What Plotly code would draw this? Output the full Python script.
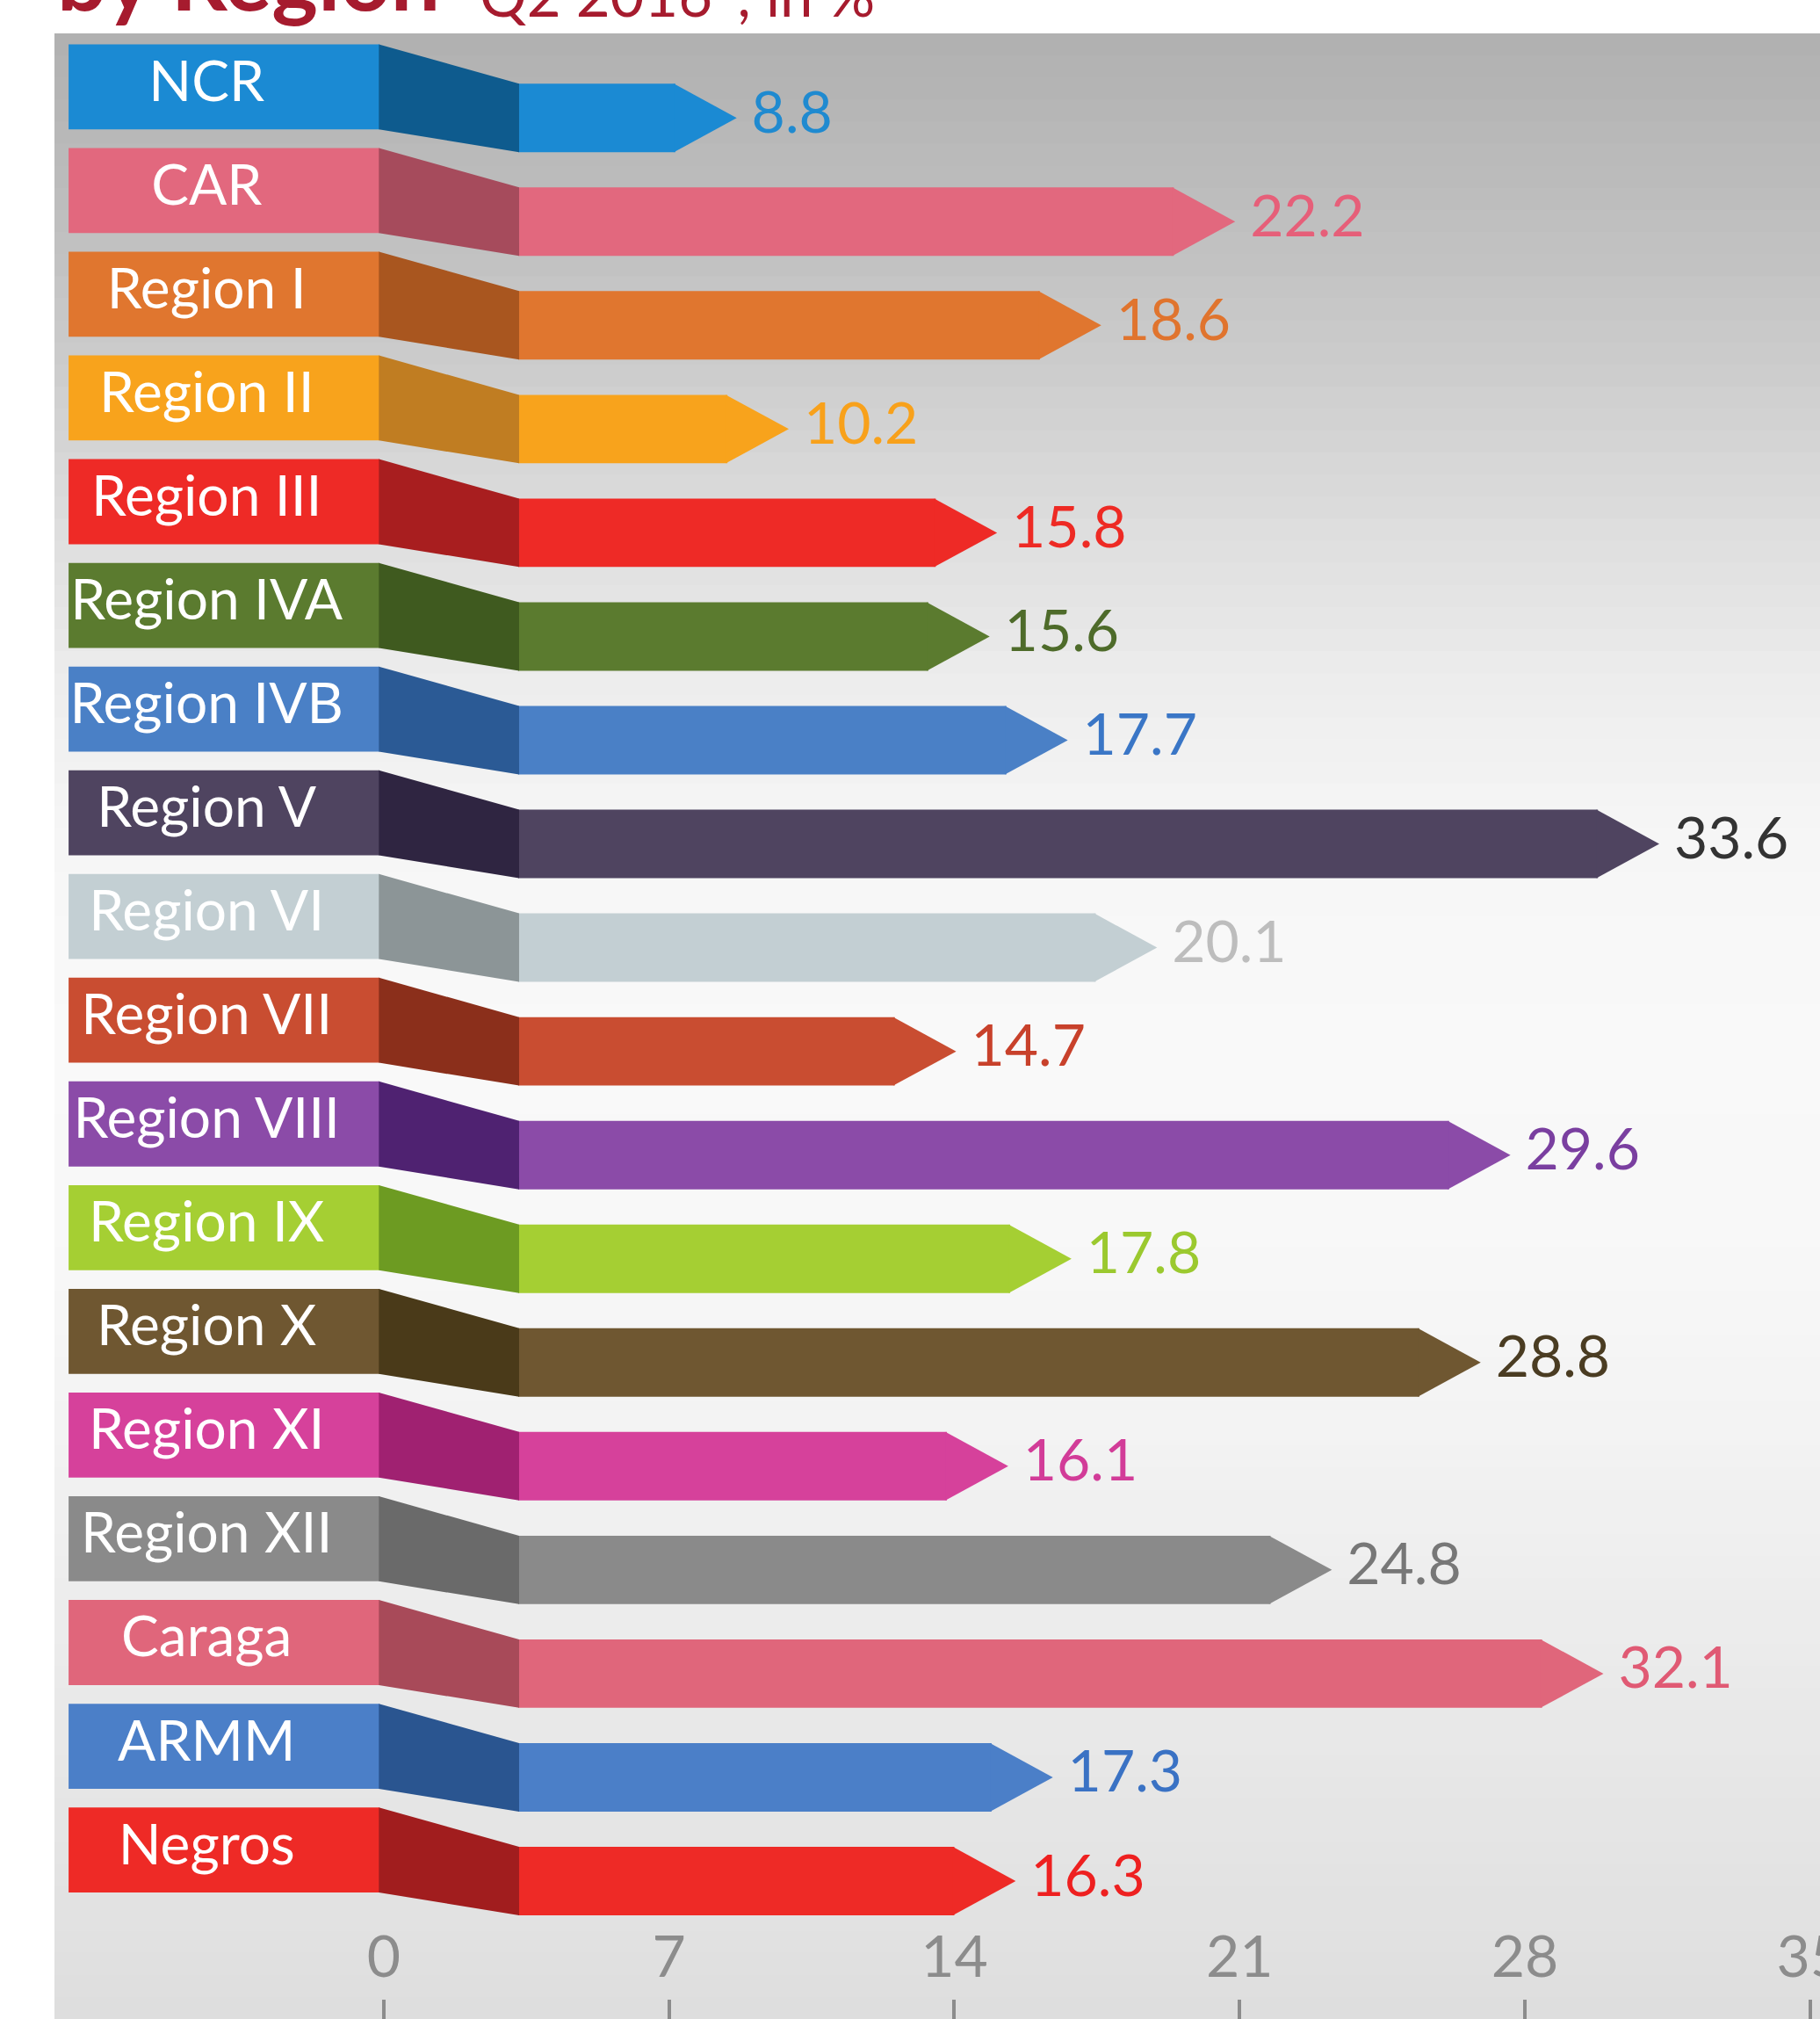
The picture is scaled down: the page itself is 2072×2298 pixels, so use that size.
import plotly.graph_objects as go

# ---------------- data ----------------
regions = ["NCR", "CAR", "Region I", "Region II", "Region III", "Region IVA", "Region IVB",
           "Region V", "Region VI", "Region VII", "Region VIII", "Region IX", "Region X",
           "Region XI", "Region XII", "Caraga", "ARMM", "Negros"]
values = [8.8, 22.2, 18.6, 10.2, 15.8, 15.6, 17.7, 33.6, 20.1, 14.7, 29.6, 17.8, 28.8,
          16.1, 24.8, 32.1, 17.3, 16.3]
bar_colors = ["#1b8ad3", "#e2687e", "#e0762f", "#f8a31c", "#ee2a26", "#5b7b2f", "#4a80c6",
              "#4f4460", "#c3cfd3", "#c94d31", "#8b4ba8", "#a5cf33", "#6f5731", "#d6419b",
              "#8a8a8a", "#e0667b", "#4b7fc8", "#ee2a26"]
connector_colors = ["#0e5b8e", "#a64b5c", "#a9561f", "#c07d22", "#a81e1f", "#3f5a1f", "#2b5a95",
                    "#2f2541", "#8c9597", "#8b2f1b", "#4f2271", "#6d9b22", "#4a3a19", "#a02171",
                    "#6a6a6a", "#a84a59", "#2a5590", "#a11d1e"]
value_colors = ["#1f8ad0", "#e65f79", "#e0742e", "#f8a11b", "#ee2a24", "#4e6b2a", "#3a76c6",
                "#333333", "#bdbdbd", "#c8412b", "#7a3fa0", "#9bc92f", "#4a3c22", "#d23c98",
                "#777777", "#e05a74", "#3a72c4", "#ee2020"]
axis_ticks = [0, 7, 14, 21, 28, 35]

# ---------------- layout constants (styling) ----------------
W, H = 2072, 2298
X_RANGE = [-9.54, 37.92]          # hidden bar axis
AX2_RANGE = [-8.08, 35.24]        # visible decorative axis
Y_RANGE = [18.63, -0.515]
LABEL_X0, LABEL_X1 = -9.16, -0.80
LABEL_TEXT_X = -5.45
BAR_START = 2.93
ARROW_LEN = 1.65
BAR_OFFSET = 0.30
LABEL_HALF = 0.41
BAR_HALF = 0.33
FONT = "Lato"

rows = list(range(len(regions)))
bar_rows = [r + BAR_OFFSET for r in rows]

fig = go.Figure()

# label boxes
fig.add_trace(go.Bar(
    orientation="h", y=rows, base=[LABEL_X0] * len(rows),
    x=[LABEL_X1 - LABEL_X0] * len(rows), width=2 * LABEL_HALF,
    marker=dict(color=bar_colors, line=dict(width=0)),
    hoverinfo="skip", showlegend=False))

# bar bodies
fig.add_trace(go.Bar(
    orientation="h", y=bar_rows, base=[BAR_START] * len(rows),
    x=[v - ARROW_LEN - BAR_START for v in values], width=2 * BAR_HALF,
    marker=dict(color=bar_colors, line=dict(width=0)),
    customdata=values, hovertemplate="%{customdata}<extra></extra>",
    showlegend=False))

# arrow heads
for v, yc, c in zip(values, bar_rows, bar_colors):
    xb = v - ARROW_LEN - 0.04
    fig.add_trace(go.Scatter(
        x=[xb, v, xb, xb], y=[yc - BAR_HALF, yc, yc + BAR_HALF, yc - BAR_HALF],
        mode="lines", fill="toself", fillcolor=c, line=dict(width=0, color=c),
        hoverinfo="skip", showlegend=False))

# value labels
fig.add_trace(go.Scatter(
    x=values, y=bar_rows, mode="text", text=[f" {v:.1f}" for v in values],
    textposition="middle right",
    textfont=dict(family=FONT, size=66, color=value_colors),
    hoverinfo="skip", showlegend=False))

# category labels
fig.add_trace(go.Scatter(
    x=[LABEL_TEXT_X] * len(rows), y=rows, mode="text", text=regions,
    textposition="middle center",
    textfont=dict(family=FONT, size=64, color="white"),
    hoverinfo="skip", showlegend=False))

# invisible trace for decorative axis
fig.add_trace(go.Scatter(
    x=axis_ticks, y=[18.5] * len(axis_ticks), xaxis="x2", mode="markers",
    marker=dict(opacity=0), hoverinfo="skip", showlegend=False))

shapes = []
# background gradient (vertical bands)
stops = [(0.0, 176), (0.05, 184), (0.12, 195), (0.19, 209), (0.26, 224), (0.33, 237),
         (0.40, 246), (0.50, 249), (0.60, 248), (0.70, 243), (0.80, 236), (0.90, 229),
         (1.0, 222)]
N = 90
def gray_at(t):
    for (t0, g0), (t1, g1) in zip(stops[:-1], stops[1:]):
        if t0 <= t <= t1:
            return g0 + (g1 - g0) * (t - t0) / (t1 - t0)
    return stops[-1][1]
for k in range(N):
    t0, t1 = k / N, (k + 1) / N
    g = int(round(gray_at((t0 + t1) / 2)))
    shapes.append(dict(type="rect", xref="paper", yref="paper", x0=0, x1=1,
                       y0=1 - t1 - 0.001, y1=1 - t0, layer="below",
                       fillcolor=f"rgb({g},{g},{g})", line=dict(width=0)))

# connectors
for r, c in zip(rows, connector_colors):
    yb = r + BAR_OFFSET
    path = (f"M {LABEL_X1 - 0.02},{r - LABEL_HALF} L {BAR_START + 0.02},{yb - BAR_HALF} "
            f"L {BAR_START + 0.02},{yb + BAR_HALF} L {LABEL_X1 - 0.02},{r + LABEL_HALF} Z")
    shapes.append(dict(type="path", xref="x", yref="y", path=path,
                       fillcolor=c, line=dict(width=0), layer="above"))

annotations = [
    dict(text="<b>by Region</b>", xref="paper", yref="paper", x=0.004, y=1.0,
         xanchor="left", yanchor="bottom", showarrow=False, xshift=-7, yshift=3,
         font=dict(family=FONT, size=100, color="#a61b2e")),
    dict(text="Q2 2016*, in %", xref="paper", yref="paper", x=0.2398, y=1.0,
         xanchor="left", yanchor="bottom", showarrow=False, yshift=3,
         font=dict(family=FONT, size=67, color="#a61b2e")),
]

fig.update_layout(
    width=W, height=H,
    margin=dict(l=62, r=0, t=38, b=0, autoexpand=False),
    paper_bgcolor="white", plot_bgcolor="#e6e6e6",
    barmode="overlay",
    shapes=shapes, annotations=annotations,
    xaxis=dict(range=X_RANGE, visible=False, fixedrange=True),
    xaxis2=dict(range=AX2_RANGE, overlaying="x", side="top", anchor="free", position=0,
                tickvals=axis_ticks, ticktext=[str(t) for t in axis_ticks],
                ticks="outside", ticklen=22, tickwidth=4, tickcolor="#8c8c8c",
                tickfont=dict(family=FONT, size=66, color="#8c8c8c"),
                showgrid=False, zeroline=False, showline=False, automargin=False,
                ticklabeloverflow="allow", fixedrange=True),
    yaxis=dict(range=Y_RANGE, visible=False, fixedrange=True),
    showlegend=False,
)

fig.write_html(
    "out.html",
    config={"displayModeBar": False},
    post_script="document.body.style.margin='0px';document.body.style.overflow='hidden';",
)
